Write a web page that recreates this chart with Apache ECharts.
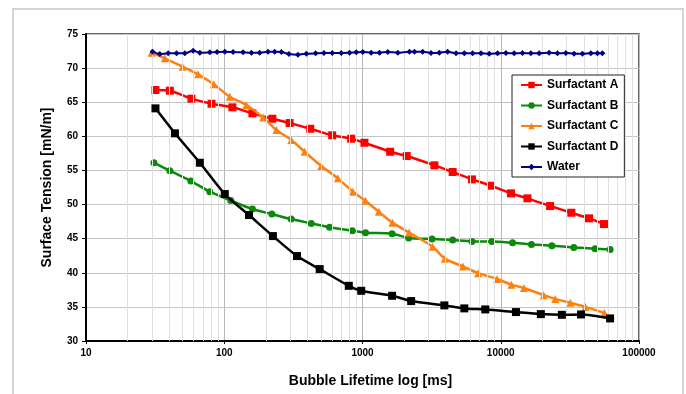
<!DOCTYPE html>
<html>
<head>
<meta charset="utf-8">
<script src="https://cdn.jsdelivr.net/npm/echarts@6/dist/echarts.min.js"></script>
<style>
html,body{margin:0;padding:0;background:#fff;}
#c{width:686px;height:394px;}
</style>
</head>
<body>
<div id="c"></div>
<script>
// ---- data ----
const seriesNames = ['Surfactant A', 'Surfactant B', 'Surfactant C', 'Surfactant D', 'Water'];

const aX = [31.8, 40.4, 57.9, 80.9, 114.5, 159.8, 222.8, 297, 418.8, 603.7, 828, 1033, 1585, 2089, 3313, 4490, 6194, 8492, 11860, 15600, 22750, 32400, 43500, 55850];
const aY = [66.79, 66.69, 65.52, 64.78, 64.25, 63.37, 62.58, 61.95, 61.11, 60.15, 59.65, 59.06, 57.74, 57.11, 55.75, 54.77, 53.69, 52.76, 51.64, 50.91, 49.78, 48.80, 47.98, 47.14];

const bX = [31.0, 40.4, 57.3, 78.6, 111.5, 159.8, 221, 305, 426, 578, 843, 1052, 1637, 2159, 3185, 4490, 6194, 8630, 12170, 16680, 23440, 33760, 48100, 61800];
const bY = [56.13, 54.96, 53.45, 51.88, 50.58, 49.34, 48.61, 47.87, 47.24, 46.66, 46.16, 45.87, 45.72, 45.09, 44.94, 44.79, 44.60, 44.60, 44.40, 44.16, 43.96, 43.72, 43.52, 43.43];

const cX = [29.8, 37.2, 49.9, 64.7, 84.0, 109.6, 144.6, 191.2, 238.2, 305.7, 381.2, 503.3, 663.3, 851, 1051, 1312, 1647, 2174, 3218, 3942, 5335, 6857, 9404, 11950, 14710, 20440, 24750, 31920, 40960, 56170];
const cY = [72.26, 71.44, 70.21, 69.09, 67.62, 65.81, 64.59, 62.76, 60.92, 59.46, 57.74, 55.65, 53.84, 51.88, 50.56, 48.94, 47.35, 45.89, 43.83, 42.07, 40.93, 39.94, 39.09, 38.26, 37.77, 36.72, 36.17, 35.59, 35.00, 34.12];

const dX = [31.8, 44.0, 66.6, 100.9, 151, 225, 336, 490, 796, 979, 1637, 2249, 3909, 5452, 7727, 12880, 19500, 27660, 38100, 61800];
const dY = [64.10, 60.44, 56.13, 51.54, 48.46, 45.38, 42.45, 40.54, 38.09, 37.36, 36.63, 35.85, 35.22, 34.78, 34.63, 34.24, 33.94, 33.84, 33.89, 33.31];

const wX = [30.3, 34.2, 39.3, 45.2, 51.9, 59.6, 66.6, 78.6, 88.7, 100.9, 115.8, 136.8, 157.2, 180.4, 207.2, 231.6, 258.9, 293.7, 341.2, 392.5, 458.3, 526.2, 604.5, 702, 806, 901, 1005, 1156, 1327, 1525, 1800, 2185, 2375, 2725, 3131, 3596, 4130, 4749, 5452, 6258, 7193, 8260, 9488, 10900, 12510, 14370, 16500, 18960, 22390, 25700, 29570, 33950, 39000, 44800, 50000, 54350];
const wY = [72.41, 72.07, 72.17, 72.17, 72.17, 72.56, 72.26, 72.31, 72.36, 72.41, 72.36, 72.31, 72.26, 72.26, 72.41, 72.41, 72.36, 72.07, 71.97, 72.12, 72.17, 72.21, 72.21, 72.21, 72.26, 72.31, 72.36, 72.26, 72.26,
            72.36, 72.26, 72.41, 72.41, 72.41, 72.21, 72.26, 72.41, 72.17, 72.17, 72.17, 72.17, 72.12, 72.17, 72.21, 72.17, 72.21, 72.17, 72.17, 72.26, 72.17, 72.21, 72.12, 72.12, 72.17, 72.17, 72.17];

const minorGridX = [20, 30, 40, 50, 60, 70, 80, 90, 200, 300, 400, 500, 600, 700, 800, 900, 2000, 3000, 4000, 5000, 6000, 7000, 8000, 9000, 20000, 30000, 40000, 50000, 60000, 70000, 80000, 90000];

const xTitle = 'Bubble Lifetime log [ms]';
const yTitle = 'Surface Tension [mN/m]';

// ---- build ----
const zip = (xs, ys) => xs.map((x, i) => [x, ys[i]]);
const colors = ['#ff0000', '#0a8a0a', '#ff8010', '#000000', '#000080'];
const symbols = ['rect', 'circle', 'triangle', 'rect', 'diamond'];
const sizes = [8, 7, 8, 8, 6];
const datasets = [zip(aX, aY), zip(bX, bY), zip(cX, cY), zip(dX, dY), zip(wX, wY)];

const series = [{
  type: 'line', data: [], silent: true, z: 0,
  markLine: {
    silent: true, symbol: ['none', 'none'], label: {show: false},
    lineStyle: {color: '#e0e0e0', width: 1, type: 'solid'},
    data: minorGridX.map(v => ({xAxis: v}))
  }
}];
seriesNames.forEach((n, i) => {
  series.push({
    name: n, type: 'line', data: datasets[i],
    smooth: 0.25,
    symbol: symbols[i], symbolSize: sizes[i],
    showSymbol: true,
    lineStyle: {color: colors[i], width: i === 4 ? 2 : 2.5},
    itemStyle: {color: colors[i], borderWidth: 0},
    emphasis: {disabled: true},
    z: 2 + i
  });
});

const chart = echarts.init(document.getElementById('c'), null, {renderer: 'canvas'});
chart.setOption({
  animation: false,
  backgroundColor: '#fff',
  graphic: [{
    type: 'rect', silent: true, z: -10,
    shape: {x: 13, y: 9, width: 670, height: 400},
    style: {fill: 'none', stroke: '#d4d4d4', lineWidth: 2}
  }],
  grid: {left: 86, right: 47, top: 34, bottom: 53, show: true, borderColor: '#333', borderWidth: 1.5, backgroundColor: 'transparent'},
  legend: {
    data: seriesNames,
    z: 20,
    orient: 'vertical', left: 512, top: 75,
    padding: [3, 6, 3, 8],
    itemWidth: 21, itemHeight: 8, itemGap: 6.5,
    backgroundColor: '#fff', borderColor: '#222', borderWidth: 1,
    textStyle: {fontFamily: 'Liberation Sans, Arial, sans-serif', fontWeight: 'bold', fontSize: 12, color: '#000', lineHeight: 14}
  },
  xAxis: {
    type: 'log', logBase: 10, min: 10, max: 100000,
    name: xTitle, nameLocation: 'middle', nameGap: 33,
    nameTextStyle: {fontFamily: 'Liberation Sans, Arial, sans-serif', fontWeight: 'bold', fontSize: 14, color: '#000', padding: [0, 0, 0, 16]},
    axisLine: {show: true, onZero: false, lineStyle: {color: '#000', width: 2}},
    axisTick: {show: true, length: 3, lineStyle: {color: '#000'}},
    minorTick: {show: false},
    axisLabel: {fontFamily: 'Liberation Sans, Arial, sans-serif', fontWeight: 'bold', fontSize: 10, color: '#000', margin: 7,
      formatter: v => String(Math.round(v))},
    splitLine: {show: true, lineStyle: {color: '#b8b8b8', width: 1}}
  },
  yAxis: {
    type: 'value', min: 30, max: 75, interval: 5,
    name: yTitle, nameLocation: 'middle', nameGap: 32, nameRotate: 90,
    nameTextStyle: {fontFamily: 'Liberation Sans, Arial, sans-serif', fontWeight: 'bold', fontSize: 14, color: '#000'},
    axisLine: {show: true, lineStyle: {color: '#000', width: 2}},
    axisTick: {show: true, length: 4, lineStyle: {color: '#000'}},
    axisLabel: {fontFamily: 'Liberation Sans, Arial, sans-serif', fontWeight: 'bold', fontSize: 10, color: '#000', margin: 8},
    splitLine: {show: true, lineStyle: {color: '#c4c4c4', width: 1}}
  },
  series: series
});
</script>
</body>
</html>
